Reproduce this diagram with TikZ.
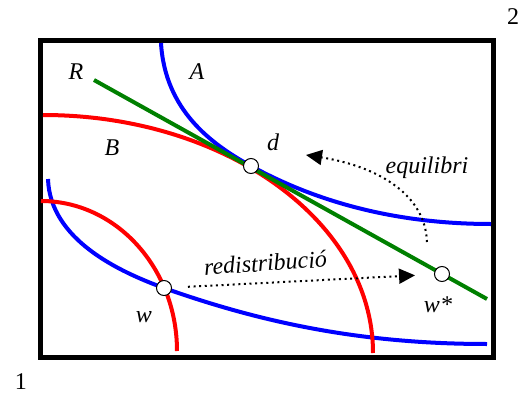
\documentclass[tikz,border=0pt]{standalone}
\usepackage{fontspec}
\setmainfont{Liberation Serif}[ItalicFont={Liberation Serif Italic}]
\usetikzlibrary{arrows.meta}

\begin{document}
\begin{tikzpicture}[x=1pt, y=-1pt,
	curve/.style={line width=4pt},
	pt/.style={draw, circle, fill=white, line width=1pt, minimum size=15pt, inner sep=0pt},
	lbl/.style={font=\fontsize{24}{28}\selectfont\itshape, anchor=base, inner sep=0pt},
	num/.style={font=\fontsize{24}{28}\selectfont, anchor=base, inner sep=0pt},
	move/.style={line width=2pt, dash pattern=on 2pt off 3.6pt, -{Triangle[length=16pt,width=15pt]}}]
	\useasboundingbox (0,0) rectangle (523,394);
	\draw[line width=4.7pt] (40.3,40.3) rectangle (493.7,357.7);
	% curves
	\draw[curve, blue] (48,179) .. controls (50,240) and (120,272) .. (164,288)
		.. controls (260,322) and (360,344) .. (487,344);
	\draw[curve, red] (41,201) arc[start angle=-90, end angle=0, x radius=136, y radius=150];
	\draw[curve, blue] (161,43) .. controls (165,110) and (211,144) .. (251,166)
		.. controls (311,199) and (390,224) .. (491,224);
	\draw[curve, red] (43,115) arc[start angle=-90, end angle=0, x radius=330, y radius=238];
	\draw[curve, green!50!black] (94,80) -- (487,299);
	% points
	\node[pt] (d) at (251,166) {};
	\node[pt] (w) at (164,288) {};
	\node[pt] (wstar) at (442,274) {};
	\coordinate (eqs) at (427,242);
	\coordinate (eqe) at (306,155);
	\draw[move, shorten <=16pt, shorten >=19pt] (w) -- (wstar);
	\draw[move] (eqs) .. controls (425,190) and (370,165) .. (eqe);
	% labels
	\node[lbl] (R) at (76,79) {R};
	\node[lbl] (A) at (197,79) {A};
	\node[lbl] (B) at (112,155) {B};
	\node[lbl] (dl) at (273,150) {d};
	\node[lbl] (wl) at (144,322) {w};
	\node[lbl] (wsl) at (438,312) {w*};
	\node[lbl] (eq) at (427,173) {equilibri};
	\node[lbl, rotate=4] (redis) at (266,271) {redistribució};
	\node[num] (two) at (513,24) {2};
	\node[num] (one) at (21,389) {1};
\end{tikzpicture}
\end{document}
